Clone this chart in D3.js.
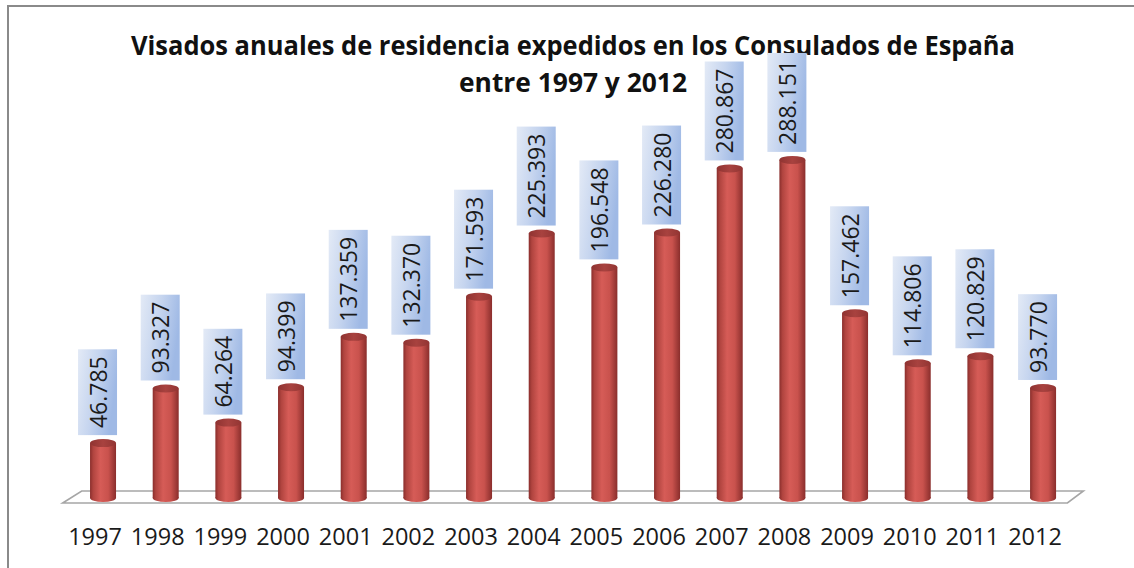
<!DOCTYPE html>
<html>
<head>
<meta charset="utf-8">
<script src="https://cdn.jsdelivr.net/npm/d3@7"></script>
<style>
  html, body { margin: 0; padding: 0; background: #fff; }
  svg { display: block; font-family: "Open Sans", sans-serif; }
</style>
</head>
<body>
<svg id="chart" width="1134" height="568"></svg>
<script>
// data
var years = ['1997', '1998', '1999', '2000', '2001', '2002', '2003', '2004',
             '2005', '2006', '2007', '2008', '2009', '2010', '2011', '2012'];
var visados = [46785, 93327, 64264, 94399, 137359, 132370, 171593, 225393,
               196548, 226280, 280867, 288151, 157462, 114806, 120829, 93770];
var titleLines = ['Visados anuales de residencia expedidos en los Consulados de España',
                  'entre 1997 y 2012'];

(function () {
  var svg = d3.select('#chart');
  var W = 1134, H = 568;
  var base = 498;

  var fmt = d3.formatLocale({ decimal: ',', thousands: '.', grouping: [3], currency: ['', ''] }).format(',d');

  var x = d3.scaleBand().domain(years).range([71.7, 1074.4]);
  var y = d3.scaleLinear().domain([0, 300000]).range([base, base - 352]);

  var defs = svg.append('defs');

  var gradBody = defs.append('linearGradient').attr('id', 'cyl').attr('x1', 0).attr('x2', 1).attr('y1', 0).attr('y2', 0);
  [[0, '#8a2e2c'], [0.12, '#b0443f'], [0.4, '#d65c57'], [0.7, '#c9524d'], [1, '#8a2e2c']].forEach(function (s) {
    gradBody.append('stop').attr('offset', s[0]).attr('stop-color', s[1]);
  });
  var gradTop = defs.append('linearGradient').attr('id', 'cyltop').attr('x1', 0).attr('x2', 1).attr('y1', 0).attr('y2', 0);
  [[0, '#8f3331'], [0.5, '#a8423f'], [1, '#923533']].forEach(function (s) {
    gradTop.append('stop').attr('offset', s[0]).attr('stop-color', s[1]);
  });
  var gradLbl = defs.append('linearGradient').attr('id', 'lbl').attr('x1', 0).attr('x2', 1).attr('y1', 0).attr('y2', 0.3);
  [[0, '#e3eaf6'], [0.5, '#c6d5ef'], [1, '#9fb9e5']].forEach(function (s) {
    gradLbl.append('stop').attr('offset', s[0]).attr('stop-color', s[1]);
  });

  // outer border
  svg.append('rect')
    .attr('x', 8).attr('y', 6).attr('width', W + 20).attr('height', H + 20)
    .attr('fill', 'none').attr('stroke', '#8a8a8a').attr('stroke-width', 2);

  // title
  var tw = [884, 228];
  titleLines.forEach(function (t, i) {
    svg.append('text')
      .attr('x', 573).attr('y', i === 0 ? 55 : 92)
      .attr('text-anchor', 'middle')
      .attr('font-size', 27.5).attr('font-weight', 'bold').attr('fill', '#111')
      .attr('textLength', tw[i]).attr('lengthAdjust', 'spacingAndGlyphs')
      .text(t);
  });

  // floor
  var x0 = x.range()[0], x1 = x.range()[1];
  svg.append('polygon')
    .attr('points', [[x0 - 9, base + 5], [x0 + 10, base - 7], [x1 + 9, base - 7], [x1 - 7, base + 5]].join(' '))
    .attr('fill', '#fff').attr('stroke', '#a6a6a6').attr('stroke-width', 1.6);

  // cylinders
  var rx = 13, ry = 4;
  var bars = svg.append('g').selectAll('g').data(years).join('g')
    .attr('transform', function (d) { return 'translate(' + (x(d) + x.bandwidth() / 2) + ',0)'; });

  bars.append('ellipse')
    .attr('cx', 0).attr('cy', base).attr('rx', rx).attr('ry', ry)
    .attr('fill', 'url(#cyl)');
  bars.append('rect')
    .attr('x', -rx).attr('width', rx * 2)
    .attr('y', function (d, i) { return y(visados[i]); })
    .attr('height', function (d, i) { return base - y(visados[i]); })
    .attr('fill', 'url(#cyl)');
  bars.append('ellipse')
    .attr('cx', 0).attr('cy', function (d, i) { return y(visados[i]); })
    .attr('rx', rx).attr('ry', ry)
    .attr('fill', 'url(#cyltop)');

  // value labels
  bars.each(function (d, i) {
    var g = d3.select(this);
    var bottom = y(visados[i]) - ry - 4;
    var box = g.append('rect').attr('fill', 'url(#lbl)');
    var t = g.append('text')
      .attr('transform', 'translate(-5.5,' + (bottom - 7) + ') rotate(-90)')
      .attr('dominant-baseline', 'central')
      .attr('font-size', 23).attr('fill', '#1a1a1a')
      .text(fmt(visados[i]));
    var len = t.node().getComputedTextLength();
    box.attr('x', -25).attr('width', 39)
      .attr('y', bottom - len - 14).attr('height', len + 14);
  });

  // year labels
  svg.append('g').selectAll('text').data(years).join('text')
    .attr('x', function (d) { return x(d) + x.bandwidth() / 2 - 8; })
    .attr('y', 545)
    .attr('text-anchor', 'middle')
    .attr('font-size', 23.5).attr('fill', '#1a1a1a')
    .text(function (d) { return d; });
})();
</script>
</body>
</html>
